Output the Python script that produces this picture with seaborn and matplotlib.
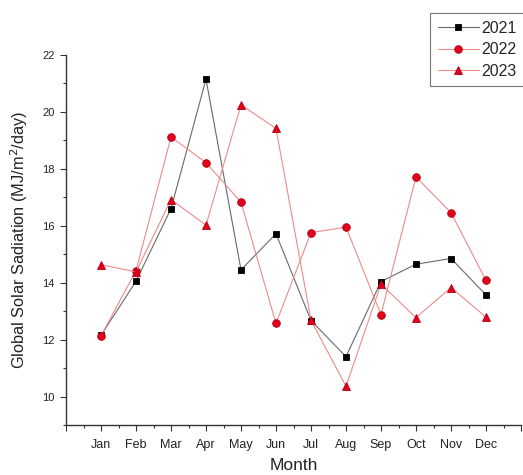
import matplotlib
matplotlib.use("Agg")
import matplotlib.pyplot as plt
import seaborn as sns
import numpy as np
import pandas as pd
from matplotlib.ticker import MultipleLocator, FixedLocator

months = ["Jan", "Feb", "Mar", "Apr", "May", "Jun", "Jul", "Aug", "Sep", "Oct", "Nov", "Dec"]
y2021 = [12.15, 14.05, 16.6, 21.15, 14.45, 15.72, 12.67, 11.4, 14.04, 14.65, 14.85, 13.57]
y2022 = [12.13, 14.42, 19.12, 18.22, 16.83, 12.57, 15.76, 15.95, 12.88, 17.72, 16.46, 14.08]
y2023 = [14.63, 14.38, 16.92, 16.02, 20.25, 19.42, 12.68, 10.36, 13.95, 12.77, 13.83, 12.79]
years = ["2021", "2022", "2023"]

sns.set_theme(style="ticks")
plt.rcParams['font.family'] = ['Liberation Sans', 'DejaVu Sans']

x = np.arange(1, len(months) + 1)
df = pd.DataFrame({"x": np.tile(x, 3),
                   "value": y2021 + y2022 + y2023,
                   "year": np.repeat(years, len(months))})

fig = plt.figure(figsize=(5.23, 4.75), dpi=100)
ax = fig.add_axes([66 / 523, 1 - 425 / 475, (521 - 66) / 523, (425 - 55) / 475])

styles = {
    "2021": dict(marker="s", color="#6a6a6a", markerfacecolor="#000000", markeredgecolor="#000000", markersize=5),
    "2022": dict(marker="o", color="#f08a8a", markerfacecolor="#e3001b", markeredgecolor="#b00018", markersize=5.5),
    "2023": dict(marker="^", color="#f08a8a", markerfacecolor="#e3001b", markeredgecolor="#b00018", markersize=6),
}
for yr in years:
    sub = df[df["year"] == yr]
    sns.lineplot(data=sub, x="x", y="value", ax=ax, label=yr, linewidth=0.8,
                 markeredgewidth=0.6, **styles[yr])

ax.set_xlim(0, 13)
ax.set_ylim(9, 22)
ax.xaxis.set_major_locator(FixedLocator(np.arange(0, 14)))
ax.set_xticklabels([""] + months + [""])
ax.xaxis.set_minor_locator(MultipleLocator(0.5))
ax.yaxis.set_major_locator(FixedLocator(np.arange(10, 23, 2)))
ax.yaxis.set_minor_locator(MultipleLocator(1))

for s in ["top", "right"]:
    ax.spines[s].set_visible(False)
for s in ["left", "bottom"]:
    ax.spines[s].set_linewidth(1.0)
    ax.spines[s].set_color("#333333")
ax.spines["left"].set_bounds(9, 22)

ax.tick_params(axis="both", which="major", direction="out", length=4, width=0.8, colors="#333333")
ax.tick_params(axis="both", which="minor", direction="out", length=2, width=0.8, colors="#333333")
ax.tick_params(axis="x", which="major", labelsize=9, pad=6, labelcolor="#222222")
ax.tick_params(axis="y", which="major", labelsize=8, pad=4, labelcolor="#222222")

ax.set_xlabel("Month", fontsize=12.5, color="#222222", labelpad=5)
ax.set_ylabel("Global Solar Sadiation (MJ/m$^2$/day)", fontsize=11.8, color="#222222", labelpad=9)

ax.get_legend().remove()
handles, labels = ax.get_legend_handles_labels()
leg = fig.legend(handles, labels, loc="upper left", bbox_to_anchor=(430 / 523, 1 - 13 / 475),
                 frameon=True, fancybox=False, fontsize=11.5, handlelength=2.6,
                 borderpad=0.47, labelspacing=0.42, handletextpad=0.15, borderaxespad=0)
leg.get_frame().set_edgecolor("#555555")
leg.get_frame().set_linewidth(0.8)

fig.savefig("out.png", dpi=100)
